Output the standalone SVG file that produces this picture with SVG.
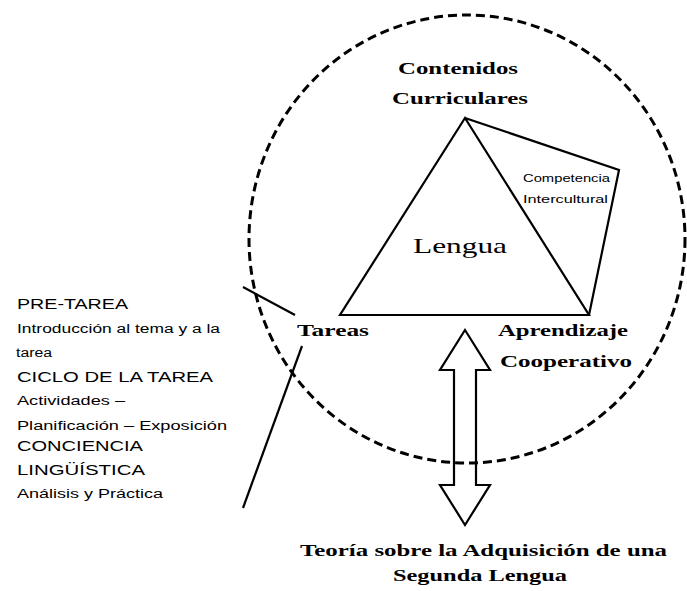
<svg xmlns="http://www.w3.org/2000/svg" width="687" height="591" viewBox="0 0 687 591">
<style>
.bg{fill:#fff}
.ln{fill:none;stroke:#000;stroke-width:2.2;stroke-linejoin:miter}
.dash{fill:none;stroke:#000;stroke-width:3;stroke-dasharray:9 5}
.b{font-family:"Liberation Serif","Times New Roman",serif;font-weight:bold;font-size:17px;fill:#000}
.r{font-family:"Liberation Serif","Times New Roman",serif;font-size:22px;fill:#000}
.s{font-family:"Liberation Sans",Arial,sans-serif;font-size:11px;fill:#000}
.u{font-family:"Liberation Sans",Arial,sans-serif;font-size:14px;fill:#000}
.l{font-family:"Liberation Sans",Arial,sans-serif;font-size:12px;fill:#000}
</style>
<rect class="bg" width="687" height="591"/>
<g id="circle">
<ellipse class="dash" cx="467" cy="239" rx="218" ry="224"/>
</g>
<g id="triangle">
<polygon class="ln" points="465,118 340,315 589,315"/>
</g>
<g id="competencia">
<polyline class="ln" points="465,118 619,170 589,315"/>
<text class="s" x="523" y="182" textLength="87" lengthAdjust="spacingAndGlyphs">Competencia</text>
<text class="s" x="523" y="203" textLength="85" lengthAdjust="spacingAndGlyphs">Intercultural</text>
</g>
<g id="lengua">
<text class="r" x="413" y="253" textLength="94" lengthAdjust="spacingAndGlyphs">Lengua</text>
</g>
<g id="contenidos">
<text class="b" x="398" y="74" textLength="120" lengthAdjust="spacingAndGlyphs">Contenidos</text>
<text class="b" x="392" y="104" textLength="136" lengthAdjust="spacingAndGlyphs">Curriculares</text>
</g>
<g id="tareas">
<text class="b" x="297" y="336" textLength="72" lengthAdjust="spacingAndGlyphs">Tareas</text>
</g>
<g id="aprendizaje">
<text class="b" x="498" y="336" textLength="130" lengthAdjust="spacingAndGlyphs">Aprendizaje</text>
<text class="b" x="500" y="367" textLength="132" lengthAdjust="spacingAndGlyphs">Cooperativo</text>
</g>
<g id="teoria">
<text class="b" x="300" y="556" textLength="367" lengthAdjust="spacingAndGlyphs">Teoría sobre la Adquisición de una</text>
<text class="b" x="393" y="581" textLength="174" lengthAdjust="spacingAndGlyphs">Segunda Lengua</text>
</g>
<g id="fases">
<text class="u" x="17" y="309" textLength="111" lengthAdjust="spacingAndGlyphs">PRE-TAREA</text>
<text class="l" x="17" y="333" textLength="203" lengthAdjust="spacingAndGlyphs">Introducción al tema y a la</text>
<text class="l" x="16" y="357" textLength="36" lengthAdjust="spacingAndGlyphs">tarea</text>
<text class="u" x="17" y="382" textLength="196" lengthAdjust="spacingAndGlyphs">CICLO DE LA TAREA</text>
<text class="l" x="17" y="405" textLength="108" lengthAdjust="spacingAndGlyphs">Actividades –</text>
<text class="l" x="17" y="430" textLength="210" lengthAdjust="spacingAndGlyphs">Planificación – Exposición</text>
<text class="u" x="17" y="451" textLength="126" lengthAdjust="spacingAndGlyphs">CONCIENCIA</text>
<text class="u" x="17" y="475" textLength="128" lengthAdjust="spacingAndGlyphs">LINGÜÍSTICA</text>
<text class="l" x="17" y="498" textLength="146" lengthAdjust="spacingAndGlyphs">Análisis y Práctica</text>
</g>
<g id="connectors">
<line class="ln" x1="243" y1="287" x2="295" y2="315"/>
<line class="ln" x1="302" y1="346" x2="243" y2="508"/>
<polygon class="ln" stroke-width="3" points="465,330 490,370 476,370 476,485 490,485 465,525 440,485 454,485 454,370 440,370"/>
</g>
</svg>
